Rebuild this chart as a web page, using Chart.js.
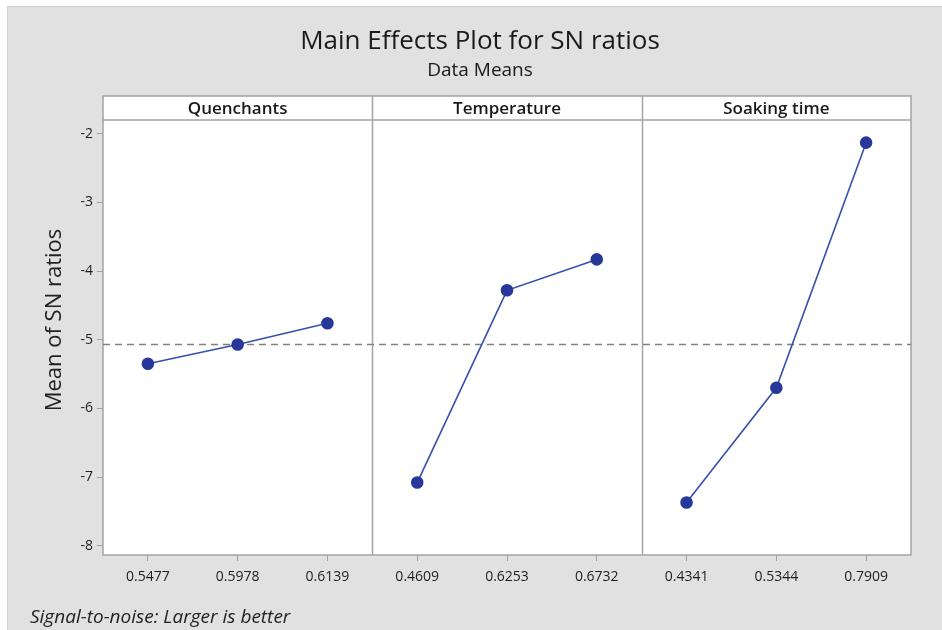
<!DOCTYPE html>
<html>
<head>
<meta charset="utf-8">
<script src="https://cdn.jsdelivr.net/npm/chart.js@4.4.1/dist/chart.umd.min.js"></script>
<style>
  html, body { margin: 0; padding: 0; background: #fff; }
  canvas { display: block; }
</style>
</head>
<body>
<canvas id="mainEffects" width="942" height="630"></canvas>
<script>
const factors = ["Quenchants", "Temperature", "Soaking time"];
const quenchantLevels = ["0.5477", "0.5978", "0.6139"];
const temperatureLevels = ["0.4609", "0.6253", "0.6732"];
const soakingLevels = ["0.4341", "0.5344", "0.7909"];
const quenchantMeans = [-5.35, -5.07, -4.76];
const temperatureMeans = [-7.08, -4.28, -3.83];
const soakingMeans = [-7.37, -5.70, -2.13];
const overallMean = -5.07;
const yTicks = [-2, -3, -4, -5, -6, -7, -8];

const FONT = "'Open Sans', 'Noto Sans', sans-serif";
const levelLabels = [quenchantLevels, temperatureLevels, soakingLevels];
const panelMeans = [quenchantMeans, temperatureMeans, soakingMeans];
const allLabels = levelLabels.flat();
// each panel is 3 units wide on the x scale, levels sit in the middle of each unit
const tickPositions = allLabels.map((_, i) => i + 0.5);

function panelData(p) {
  return panelMeans[p].map((v, i) => ({ x: p * 3 + i + 0.5, y: v }));
}

const lineStyle = {
  borderColor: "#3550ad",
  borderWidth: 1.6,
  pointBackgroundColor: "#26399a",
  pointBorderColor: "#26399a",
  pointRadius: 5.5,
  tension: 0,
};

const frame = {
  id: "frame",
  beforeDraw(chart) {
    const ctx = chart.ctx;
    const a = chart.chartArea;
    ctx.save();
    ctx.fillStyle = "#ffffff";
    ctx.fillRect(0, 0, chart.width, chart.height);
    ctx.fillStyle = "#e1e1e1";
    ctx.fillRect(7, 6, chart.width - 7, chart.height - 6);
    ctx.strokeStyle = "#d2d2d2";
    ctx.lineWidth = 1;
    ctx.strokeRect(7.5, 6.5, chart.width, chart.height);
    ctx.fillStyle = "#ffffff";
    ctx.fillRect(a.left, 96, a.right - a.left, a.bottom - 96);
    ctx.restore();
  },
  beforeDatasetsDraw(chart) {
    const ctx = chart.ctx;
    const a = chart.chartArea;
    const xs = chart.scales.x;
    ctx.save();
    ctx.strokeStyle = "#a3a3a3";
    ctx.lineWidth = 1.5;
    ctx.strokeRect(a.left, 96, a.right - a.left, a.bottom - 96);
    ctx.beginPath();
    ctx.moveTo(a.left, a.top);
    ctx.lineTo(a.right, a.top);
    [3, 6].forEach((v) => {
      const px = Math.round(xs.getPixelForValue(v)) + 0.5;
      ctx.moveTo(px, 96);
      ctx.lineTo(px, a.bottom);
    });
    ctx.stroke();

    ctx.fillStyle = "#1a1a1a";
    ctx.font = "600 17px " + FONT;
    ctx.textAlign = "center";
    ctx.textBaseline = "middle";
    factors.forEach((f, p) => {
      const cx = (xs.getPixelForValue(p * 3) + xs.getPixelForValue(p * 3 + 3)) / 2;
      ctx.fillText(f, cx, 109);
    });

    ctx.font = "26px " + FONT;
    ctx.fillText("Main Effects Plot for SN ratios", 480, 42);
    ctx.font = "19px " + FONT;
    ctx.fillText("Data Means", 480, 71);

    ctx.save();
    ctx.translate(55, 320);
    ctx.rotate(-Math.PI / 2);
    ctx.font = "22px " + FONT;
    ctx.fillStyle = "#222";
    ctx.fillText("Mean of SN ratios", 0, 0);
    ctx.restore();

    ctx.font = "italic 19px " + FONT;
    ctx.textAlign = "left";
    ctx.textBaseline = "alphabetic";
    ctx.fillStyle = "#222";
    ctx.fillText("Signal-to-noise: Larger is better", 30, 623);
    ctx.restore();
  },
};

const ctx = document.getElementById("mainEffects").getContext("2d");
new Chart(ctx, {
  type: "line",
  data: {
    datasets: [
      { label: factors[0], data: panelData(0), ...lineStyle },
      { label: factors[1], data: panelData(1), ...lineStyle },
      { label: factors[2], data: panelData(2), ...lineStyle },
      {
        label: "Mean",
        data: [{ x: 0, y: overallMean }, { x: 9, y: overallMean }],
        borderColor: "#808080",
        borderWidth: 1.4,
        borderDash: [7, 5],
        pointRadius: 0,
      },
    ],
  },
  options: {
    responsive: false,
    animation: false,
    events: [],
    layout: { padding: { top: 120, right: 31, bottom: 0, left: 0 } },
    plugins: {
      legend: { display: false },
      tooltip: { enabled: false },
      title: { display: false },
    },
    scales: {
      x: {
        type: "linear",
        min: 0,
        max: 9,
        afterBuildTicks: (scale) => {
          scale.ticks = tickPositions.map((v) => ({ value: v }));
        },
        afterFit: (scale) => {
          scale.height = 75;
        },
        grid: {
          drawOnChartArea: false,
          drawTicks: true,
          tickLength: 6,
          color: "#a0a0a0",
        },
        border: { display: false },
        ticks: {
          autoSkip: false,
          maxRotation: 0,
          padding: 8,
          color: "#1e1e1e",
          font: { family: FONT, size: 14 },
          callback: (value, index) => allLabels[index],
        },
      },
      y: {
        type: "linear",
        min: -8.135,
        max: -1.8,
        afterBuildTicks: (scale) => {
          scale.ticks = yTicks.map((v) => ({ value: v }));
        },
        afterFit: (scale) => {
          scale.width = 103;
        },
        grid: {
          drawOnChartArea: false,
          drawTicks: true,
          tickLength: 6,
          color: "#a0a0a0",
        },
        border: { display: false },
        ticks: {
          padding: 4,
          color: "#1e1e1e",
          font: { family: FONT, size: 14 },
          callback: (value) => String(value),
        },
      },
    },
  },
  plugins: [frame],
});
</script>
</body>
</html>
